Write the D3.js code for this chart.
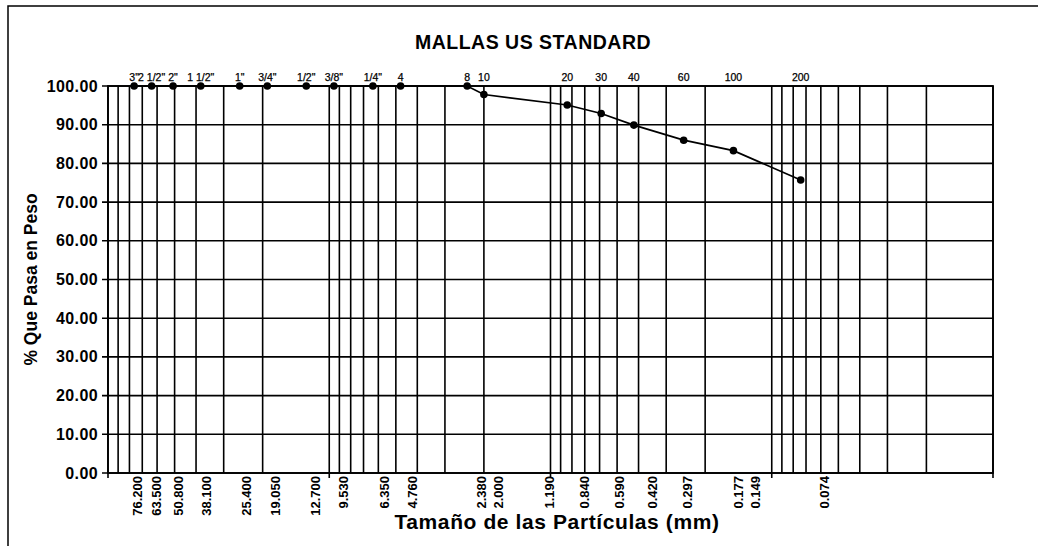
<!DOCTYPE html>
<html>
<head>
<meta charset="utf-8">
<script src="https://cdn.jsdelivr.net/npm/d3@7"></script>
<style>
  body { margin: 0; background: #fff; }
  svg { display: block; font-family: "Liberation Sans", Arial, sans-serif; }
</style>
</head>
<body>
<svg id="chart" width="1038" height="546"></svg>
<script>
// sieve names (data labels on top) and their openings in mm
const meshNames = ['3"', '2 1/2"', '2"', '1 1/2"', '1"', '3/4"', '1/2"', '3/8"', '1/4"', "4", "8", "10", "20", "30", "40", "60", "100", "200"];
const meshSizes = [76.2, 63.5, 50.8, 38.1, 25.4, 19.05, 12.7, 9.525, 6.35, 4.76, 2.38, 2.0, 0.84, 0.59, 0.42, 0.25, 0.149, 0.074];
const passing = [100, 100, 100, 100, 100, 100, 100, 100, 100, 100, 100, 97.8, 95.1, 92.9, 89.9, 86.0, 83.3, 75.7];

// size labels written under the axis
const sizeLabels = ["76.200", "63.500", "50.800", "38.100", "25.400", "19.050", "12.700", "9.530", "6.350", "4.760",
  "2.380", "2.000", "1.190", "0.840", "0.590", "0.420", "0.297", "0.177", "0.149", "0.074"];

const yTicks = [0, 10, 20, 30, 40, 50, 60, 70, 80, 90, 100];

const svg = d3.select("#chart");

// outer frame of the sheet
svg.append("rect")
  .attr("x", 8).attr("y", 6).attr("width", 1100).attr("height", 600)
  .attr("fill", "none").attr("stroke", "#000").attr("stroke-width", 1.5);

const x = d3.scaleLog().domain([100, 0.01]).range([108, 993]);
const y = d3.scaleLinear().domain([0, 100]).range([473, 86]);
// the size labels under the axis sit on a slightly wider log scale
const xLabel = d3.scaleLog().domain([100, 0.01]).range([111, 1023]);

// vertical grid (log decades with 1..9 subdivisions)
const gridVals = x.ticks();
svg.append("g")
  .selectAll("line")
  .data(gridVals)
  .enter().append("line")
  .attr("x1", d => x(d)).attr("x2", d => x(d))
  .attr("y1", y(100))
  .attr("y2", d => Math.abs(Math.log10(d) - Math.round(Math.log10(d))) < 1e-9 ? y(0) + 5 : y(0))
  .attr("stroke", "#000").attr("stroke-width", 1.6);

// horizontal grid + y ticks
svg.append("g")
  .selectAll("line")
  .data(yTicks)
  .enter().append("line")
  .attr("x1", x(100) - 6).attr("x2", x(0.01))
  .attr("y1", d => y(d)).attr("y2", d => y(d))
  .attr("stroke", "#000").attr("stroke-width", 1.6);

// plot frame
svg.append("rect")
  .attr("x", x(100)).attr("y", y(100))
  .attr("width", x(0.01) - x(100)).attr("height", y(0) - y(100))
  .attr("fill", "none").attr("stroke", "#000").attr("stroke-width", 1.8);

// y tick labels
svg.append("g")
  .selectAll("text")
  .data(yTicks)
  .enter().append("text")
  .attr("x", x(100) - 10)
  .attr("y", d => y(d) + 5.5)
  .attr("text-anchor", "end")
  .attr("font-size", 16)
  .attr("letter-spacing", 0.4)
  .attr("font-weight", "bold")
  .text(d => d.toFixed(2));

// size labels under the axis, rotated
svg.append("g")
  .selectAll("text")
  .data(sizeLabels)
  .enter().append("text")
  .attr("transform", d => `translate(${xLabel(+d)},${y(0) + 3}) rotate(-90)`)
  .attr("dy", "0.35em")
  .attr("text-anchor", "end")
  .attr("font-size", 13)
  .attr("font-weight", "bold")
  .text(d => d);

// curve
const line = d3.line()
  .x((d, i) => x(meshSizes[i]))
  .y(d => y(d));

svg.append("path")
  .datum(passing)
  .attr("d", line)
  .attr("fill", "none")
  .attr("stroke", "#000")
  .attr("stroke-width", 1.7);

svg.append("g")
  .selectAll("circle")
  .data(passing)
  .enter().append("circle")
  .attr("cx", (d, i) => x(meshSizes[i]))
  .attr("cy", d => y(d))
  .attr("r", 3.8)
  .attr("fill", "#000");

// mesh names on top
svg.append("g")
  .selectAll("text")
  .data(meshNames)
  .enter().append("text")
  .attr("x", (d, i) => x(meshSizes[i]))
  .attr("y", y(100) - 5)
  .attr("text-anchor", "middle")
  .attr("font-size", 10.5)
  .attr("stroke", "#000").attr("stroke-width", 0.25)
  .text(d => d);

// titles
svg.append("text")
  .attr("x", 533).attr("y", 49)
  .attr("text-anchor", "middle")
  .attr("font-size", 19.5)
  .attr("letter-spacing", 0.5)
  .attr("font-weight", "bold")
  .text("MALLAS US STANDARD");

svg.append("text")
  .attr("transform", `translate(37,${(y(0) + y(100)) / 2}) rotate(-90)`)
  .attr("text-anchor", "middle")
  .attr("font-size", 17.5)
  .attr("font-weight", "bold")
  .text("% Que Pasa en Peso");

svg.append("text")
  .attr("x", 557).attr("y", 529)
  .attr("text-anchor", "middle")
  .attr("font-size", 21)
  .attr("letter-spacing", 0.6)
  .attr("font-weight", "bold")
  .text("Tamaño de las Partículas (mm)");
</script>
</body>
</html>
